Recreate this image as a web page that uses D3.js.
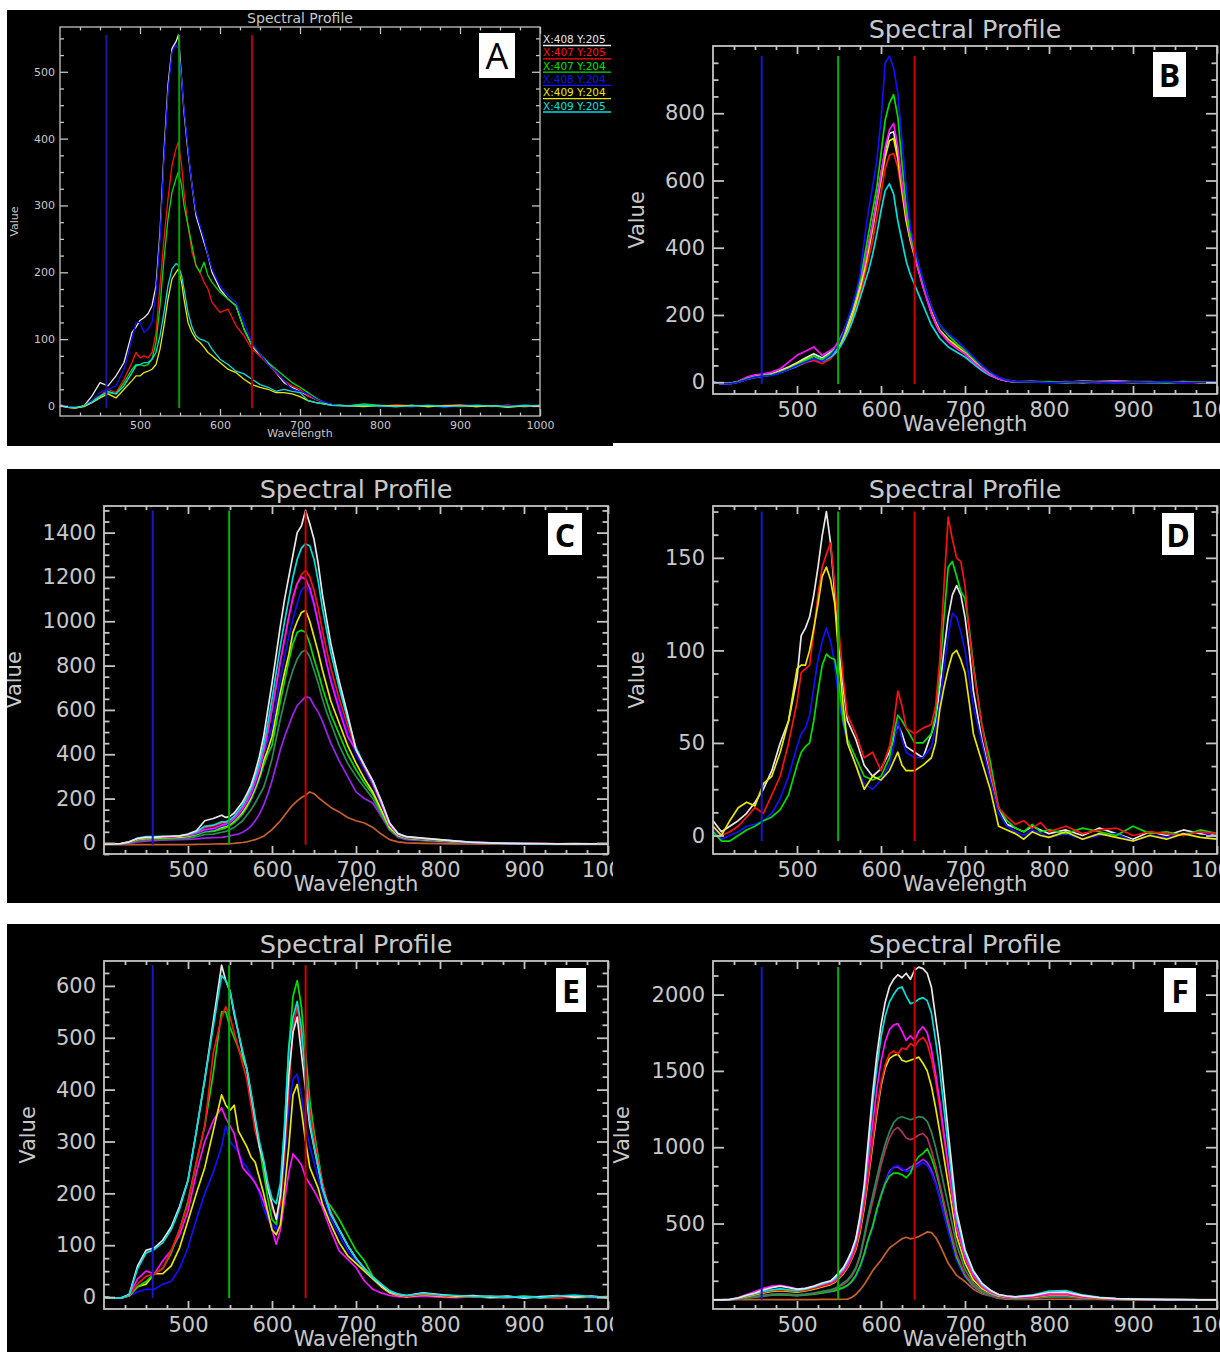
<!DOCTYPE html>
<html>
<head>
<meta charset="utf-8">
<script src="https://cdnjs.cloudflare.com/ajax/libs/d3/7.8.5/d3.min.js"></script>
<style>
  body { margin: 0; background: #fff; }
  svg { display: block; }
</style>
</head>
<body>
<svg id="fig" width="1220" height="1352"></svg>
<script>
// wavelength grids (nm) the curves were read at
const wlA = [400,410,420,430,440,450,460,470,480,490, 495,500,505,510,515,520,525,530,535,540,545, 548,552,
  555,560,565,570,575,580,585,590, 600,610,620,630,640,650,660,670,680,690,700,710,720,730,740,
  760,780,800,820,840,860,880,900,920,940,960,980,1000];
const wlStd = [400,410,420,430,440,450,460,470,480,490,500,510,520,530,540,
  545,550,555,560,565,570,575,580,585,590,595,600,605,610,615,620,625,630,635,640,645,650,655,660,665,670,
  680,690,700,710,720,730,740,750,760,
  780,800,820,840,860,880,900,920,940,960,980,1000];
const wlD = [400,410,420,430,440,450,460,470,480,490,500, 505,510,515,520,525,530,535,540,545,550,555,560,
  570,580,590,600,610, 615,620,625,630, 640,650,660, 665,670,675,680,685,690,695,700,705,710,
  720,730,740,750,760,770,780,790,800, 820,840,860,880,900,920,940,960,980,1000];

const xTicks = [500,600,700,800,900,1000];
const markerWl = [458, 549, 640];   // blue / green / red band lines

// ---- panel A ----
const legendA = ['X:408 Y:205','X:407 Y:205','X:407 Y:204','X:408 Y:204','X:409 Y:204','X:409 Y:205'];
const colorsA = ['#e8e8e8','#ff1010','#00e000','#1010ff','#e8e800','#00e0e0'];
const valuesA = [
  // white
  [2,-2,-3,0,15,35,30,45,65,110, 118,128,132,138,150,180,260,380,480,535,545, 555,490,
   440,380,330,285,265,245,225,200, 175,160,150,115,90,75,65,50,35,28,22,15,10,5,2, 0,2,0,-1,1,-1,0,1,-1,0,1,-1,0],
  // red
  [1,-2,-3,0,8,15,25,20,40,65, 80,72,75,72,80,110,180,250,310,360,385, 395,360,
   320,270,230,210,200,185,175,155, 140,145,120,105,85,75,62,50,38,30,25,15,10,5,2, 0,1,-1,2,0,-1,1,2,0,-1,1,0,1],
  // green
  [0,-2,-2,0,7,15,20,18,35,55, 62,62,60,62,70,95,150,220,280,320,340, 350,330,
   300,270,240,210,200,215,195,185, 170,160,150,115,90,78,65,55,45,35,28,20,12,5,2, 0,3,1,0,-1,1,0,-1,1,0,-1,1,0],
  // blue
  [2,-1,-3,-1,8,20,25,30,55,100, 125,125,110,115,125,170,250,370,470,530,540, 535,490,
   445,385,330,290,270,250,225,205, 180,165,155,125,95,78,62,52,38,25,22,18,10,6,2, -1,1,-1,0,-1,1,-2,0,1,-1,0,1,0],
  // yellow
  [1,-2,-3,-1,5,12,18,12,25,38, 45,45,50,52,55,62,85,120,160,190,200, 205,185,
   160,125,110,100,95,88,80,75, 65,55,50,40,32,28,25,20,20,18,14,8,5,3,1, 0,-1,1,0,1,-1,0,1,-1,0,-2,0,1],
  // cyan
  [0,-2,-2,0,6,14,22,18,30,50, 60,62,65,65,70,80,105,140,180,205,213, 210,195,
   175,140,118,105,100,98,95,85, 70,62,52,48,40,32,28,22,25,22,20,8,5,3,1, 0,1,0,-1,0,1,-1,0,1,0,-1,1,0]
];
const yTicksA = [0,100,200,300,400,500];

// ---- panel B ----
const colorsB = ['#e8e8e8','#ff1010','#e8e800','#00e0e0','#ff10ff','#00e000','#1010ff'];
const valuesB = [
  [0,-4,-4,2,12,20,22,25,35,45,58,72,85,72,90,
   100,115,140,170,205,245,290,345,405,470,545,620,690,740,745,680,580,490,425,375,330,285,245,205,175,150,
   125,105,85,62,40,22,10,4,1, 2,0,1,-1,2,3,1,0,-1,1,0,-1],
  [0,-4,-4,0,8,14,18,22,30,38,48,58,65,55,70,
   85,100,125,150,182,220,262,310,365,420,490,560,635,675,680,640,560,480,420,372,328,285,245,208,178,152,
   125,104,84,62,40,22,10,4,1, 0,1,-1,0,2,1,0,-1,1,0,-1,1],
  [0,-4,-3,2,10,18,20,24,32,42,55,68,78,66,82,
   92,108,130,158,192,232,278,330,390,455,530,600,670,718,725,665,570,480,420,375,332,290,250,212,180,155,
   128,108,88,65,42,24,11,5,1, 2,1,0,3,1,0,-1,1,0,2,-1,0],
  [0,-4,-4,0,8,14,18,22,28,38,48,60,70,62,75,
   85,100,120,145,175,210,250,290,330,380,440,510,570,590,560,480,420,360,320,290,260,230,200,170,150,130,
   105,90,75,55,35,20,10,4,1, 1,0,-1,1,0,2,0,-1,0,1,0,-1],
  [0,-4,-4,3,15,22,25,30,40,60,80,92,105,80,95,
   105,125,150,180,215,255,300,350,410,470,540,620,700,750,770,700,590,500,430,380,330,285,245,205,175,150,
   120,100,85,60,40,22,10,4,1, 1,0,2,0,-1,3,1,2,0,-1,1,0],
  [0,-3,-4,1,10,16,20,22,30,40,52,65,78,68,85,
   98,118,145,180,215,258,305,370,440,510,580,680,780,830,855,790,650,520,440,390,345,300,260,225,195,170,
   140,115,95,70,48,28,14,6,2, 0,2,-1,1,0,-1,2,1,-1,0,1,0],
  [0,-4,-5,0,8,15,18,20,28,38,50,60,70,62,80,
   95,115,145,185,220,265,320,420,510,580,660,780,950,970,935,860,720,580,460,400,350,305,260,225,195,170,
   145,125,100,75,50,30,15,6,2, 1,-1,0,2,0,-2,1,0,2,-1,0,1]
];
const yTicksB = [0,200,400,600,800];

// ---- panel C ----
const colorsC = ['#c8602a','#a020f0','#2e8b57','#00e000','#e8e800','#1010ff','#ff1010','#ff10ff','#00e0e0','#e8e8e8'];
const valuesC = [
  // orange
  [-8,-8,-8,-8,-8,-8,-8,-8,-8,-8,-8,-7,-6,-5,-4,
   -4,-3,-2,0,2,5,10,15,22,30,45,60,80,100,125,150,172,190,205,215,230,222,205,190,175,160,
   140,115,100,90,70,40,15,5,0, -2,-3,-4,-5,-5,-6,-6,-6,-7,-7,-7,-7],
  // purple
  [-6,-6,-5,-2,5,8,10,12,14,15,16,18,22,24,25,
   28,32,36,40,48,60,75,100,130,170,220,280,350,420,480,530,580,620,640,660,655,620,590,550,500,450,
   370,300,230,200,180,120,58,25,15, 10,6,3,0,-2,-3,-4,-4,-4,-5,-5,-5],
  // dark green
  [-6,-6,-5,0,10,14,15,16,18,20,22,28,38,40,48,
   52,60,70,85,100,125,150,180,215,250,310,380,470,560,640,720,780,830,860,870,840,780,720,650,590,540,
   440,360,300,250,200,130,60,30,18, 13,8,4,0,-2,-3,-3,-4,-4,-5,-5,-5],
  // green
  [-6,-6,-4,2,15,20,22,23,24,25,28,36,50,52,62,
   68,78,92,110,130,160,195,240,290,350,400,440,540,640,730,820,900,950,960,950,900,830,770,700,640,580,
   490,400,330,270,220,140,65,32,20, 15,10,5,1,-1,-2,-3,-4,-4,-4,-5,-5],
  // yellow
  [-6,-6,-4,3,16,20,22,24,25,26,30,40,55,58,70,
   75,85,100,120,140,170,205,250,300,370,420,480,580,680,770,850,950,1000,1040,1050,1000,930,860,780,710,640,
   540,440,360,290,230,150,70,34,22, 16,10,6,1,-1,-2,-3,-4,-4,-5,-5,-5],
  // blue
  [-6,-6,-4,4,20,25,26,27,28,30,34,42,55,60,75,
   80,90,105,125,150,180,215,260,320,400,460,520,630,740,840,930,1010,1080,1140,1160,1130,1070,990,900,820,740,
   620,500,400,330,260,170,80,38,24, 18,12,6,1,-1,-2,-3,-4,-4,-4,-5,-5],
  // red
  [-6,-6,-4,3,18,24,25,26,27,30,35,45,70,75,90,
   90,100,115,135,160,190,230,280,340,410,500,600,710,820,920,1020,1100,1170,1210,1230,1200,1140,1060,960,870,790,
   650,530,420,340,270,180,85,40,26, 18,12,7,2,-1,-2,-3,-3,-4,-4,-4,-5],
  // magenta
  [-5,-5,-3,4,20,25,25,27,28,30,35,45,60,65,80,
   85,95,110,130,155,185,225,275,335,410,500,600,710,820,920,1020,1110,1170,1200,1190,1150,1080,990,900,810,730,
   600,480,420,350,270,180,80,38,26, 20,14,8,2,0,-2,-3,-3,-4,-4,-4,-4],
  // cyan
  [-5,-5,-3,5,22,28,28,30,30,32,38,50,75,80,95,
   95,105,120,145,170,205,245,300,360,440,540,650,770,890,1000,1100,1200,1280,1330,1350,1340,1280,1180,1060,960,860,
   700,560,430,350,280,190,90,42,28, 20,14,8,3,0,-2,-3,-4,-4,-4,-4,-5],
  // white
  [-5,-5,-3,5,20,25,25,28,30,32,40,55,100,110,125,
   115,120,135,160,185,220,260,320,390,480,600,720,850,980,1100,1200,1300,1400,1430,1500,1440,1370,1260,1120,1010,900,
   730,580,420,350,280,190,90,42,28, 22,15,8,2,0,-2,-3,-3,-4,-3,-4,-4]
];
const yTicksC = [0,200,400,600,800,1000,1200,1400];

// ---- panel D ----
const colorsD = ['#e8e8e8','#1010ff','#00e000','#ff1010','#e8e800'];
const valuesD = [
  // white
  [8,2,5,8,12,18,25,35,50,62,85, 108,112,118,130,145,162,175,158,130,100,80,62, 52,38,32,36,45, 52,60,55,48,
   45,42,55, 62,80,100,118,130,135,130,118,100,78, 52,32,15,6,4,2,5,3,1, 3,0,4,1,-2,2,0,3,1,0],
  // blue
  [3,-2,0,2,5,6,8,12,20,32,48, 55,58,65,80,95,105,112,105,92,72,60,50, 38,28,25,30,38, 48,62,52,45,
   42,42,48, 58,72,90,108,120,118,110,100,85,70, 50,30,12,5,2,0,3,1,-1, 1,-2,0,1,-3,0,-1,1,2,-1],
  // green
  [2,-3,-3,0,3,5,8,10,14,22,38, 45,48,50,62,78,92,98,96,95,82,62,52, 42,32,30,32,42, 55,65,62,58,
   50,50,55, 65,88,118,145,148,140,132,128,112,92, 60,40,15,8,4,2,6,2,3, 1,4,2,0,5,1,2,0,3,1],
  // red
  [5,0,2,5,10,15,12,22,32,50,72, 88,90,92,110,130,145,152,158,135,110,85,65, 55,42,45,35,48, 60,78,70,58,
   55,58,60, 70,95,135,172,160,150,148,135,110,90, 60,35,15,10,6,8,4,7,2, 5,1,3,4,0,2,1,0,2,1],
  // yellow
  [5,0,8,15,18,16,28,32,45,62,90, 92,92,100,112,125,140,145,138,125,95,70,50, 38,25,32,30,35, 40,45,38,35,
   35,38,42, 50,68,80,90,98,100,95,88,72,55, 40,25,5,3,1,-2,2,0,-1, 2,-2,1,-1,-3,0,-2,1,-1,-2]
];
const yTicksD = [0,50,100,150];

// ---- panel E ----
const colorsE = ['#1010ff','#ff10ff','#e8e800','#00e000','#ff1010','#e8e8e8','#00e0e0'];
const valuesE = [
  // blue
  [0,-2,-2,2,10,15,15,25,30,55,95,150,200,240,290,
   330,300,290,280,260,250,235,220,200,170,150,140,130,180,260,370,420,430,390,330,290,260,230,200,175,150,
   120,90,70,50,35,22,10,4,1, 3,1,0,2,-1,0,1,-1,0,1,-1,0],
  // magenta
  [0,-2,-2,5,35,50,45,70,90,120,166,240,300,340,365,
   345,330,315,280,250,240,231,220,205,185,160,130,102,130,186,240,276,266,255,231,218,205,190,173,150,128,
   89,73,57,31,15,8,3,1,0, 2,0,-1,1,0,-1,0,1,-1,0,1,0],
  // yellow
  [0,-2,-2,2,20,25,45,45,60,95,147,200,250,320,390,
   370,360,370,320,305,290,270,260,230,200,165,130,120,140,210,290,390,410,360,300,250,230,210,180,160,140,
   105,80,65,50,35,20,8,3,1, 4,2,0,1,-1,0,1,-1,0,2,0,-1],
  // green
  [0,-2,-2,3,20,30,45,55,85,130,185,260,330,430,550,
   550,520,500,480,460,440,390,340,290,240,190,150,140,200,330,480,580,610,560,470,380,320,270,220,185,175,
   150,120,90,70,40,25,12,5,2, 6,4,2,0,1,-1,2,0,1,-1,0,1],
  // red
  [0,-2,-2,3,25,40,45,55,90,130,180,260,330,470,540,
   560,540,510,480,450,420,370,320,290,260,220,170,155,180,280,400,520,560,500,440,360,310,260,220,190,165,
   130,100,75,55,38,22,10,4,2, 5,3,1,0,2,-1,1,0,-2,1,0,1],
  // white
  [0,-2,-2,5,60,90,95,110,135,175,225,320,420,530,640,
   610,590,545,510,470,440,390,340,290,260,210,180,150,195,300,430,510,540,470,400,330,290,250,210,185,160,
   130,100,75,55,38,22,10,5,3, 8,5,2,3,0,2,-2,1,3,0,2,-1],
  // cyan
  [0,-2,-2,4,55,85,92,105,130,170,225,320,420,520,620,
   610,590,550,510,475,440,395,345,300,265,220,190,180,220,330,480,540,570,520,420,340,290,250,210,185,160,
   130,100,75,55,38,25,12,6,3, 7,4,3,1,2,0,1,-1,2,4,1,0]
];
const yTicksE = [0,100,200,300,400,500,600];

// ---- panel F ----
const colorsF = ['#c8602a','#a020f0','#1010ff','#00e000','#b03060','#2e8b57','#e8e800','#ff1010','#ff10ff','#00e0e0','#e8e8e8'];
const valuesF = [
  // orange
  [2,2,2,2,2,2,2,2,2,2,2,2,2,3,3,
   3,3,4,5,15,35,65,100,145,190,225,260,300,340,360,380,400,410,400,405,415,430,445,440,410,360,
   240,160,120,70,40,25,10,5,3, 3,4,4,3,3,2,2,2,2,2,2,2],
  // purple
  [0,0,1,6,14,20,28,34,38,34,30,34,40,48,56,
   62,72,82,95,120,155,215,300,400,480,590,690,770,840,870,870,850,850,870,880,900,920,900,850,770,670,
   460,265,155,88,50,30,17,12,8, 11,19,21,11,5,3,2,1,0,0,0,0],
  // blue
  [0,0,1,5,12,18,24,30,34,30,27,31,37,45,52,
   58,68,78,90,115,150,210,290,390,470,580,680,760,830,870,880,860,840,850,860,880,900,880,830,760,660,
   450,260,150,85,48,28,16,11,8, 10,18,20,10,5,3,2,1,0,0,0,0],
  // green
  [0,0,1,5,12,18,25,30,34,30,28,32,38,46,55,
   60,70,80,95,120,160,220,300,400,480,590,680,760,810,830,830,820,800,830,900,940,960,990,930,850,740,
   500,280,160,90,50,30,18,12,8, 11,20,22,11,5,3,2,1,0,0,0,0],
  // maroon
  [0,0,1,6,14,20,28,34,38,34,30,35,42,52,62,
   70,85,100,120,155,200,280,400,530,640,760,880,980,1060,1110,1130,1100,1060,1050,1060,1080,1090,1060,980,880,760,
   520,300,170,95,55,30,18,12,9, 12,22,24,12,6,3,2,1,0,0,0,0],
  // sea green
  [0,0,1,6,15,22,30,36,40,36,32,38,45,55,65,
   75,90,110,130,165,210,290,420,560,680,800,920,1020,1100,1160,1190,1200,1190,1180,1190,1200,1195,1170,1100,1000,880,
   620,360,200,110,60,35,20,14,10, 14,24,26,14,7,4,2,1,0,0,0,0],
  // yellow
  [0,0,2,10,22,34,45,55,60,55,50,58,70,85,100,
   115,140,170,210,265,330,440,600,800,1010,1220,1400,1520,1580,1600,1610,1570,1560,1570,1580,1590,1550,1500,1400,1260,1100,
   760,420,240,130,75,45,25,18,14, 18,30,32,18,9,5,3,2,1,0,0,0],
  // red
  [0,0,2,10,25,38,50,60,65,60,55,62,75,90,105,
   120,145,175,215,270,340,460,620,820,1040,1250,1420,1540,1610,1630,1610,1650,1640,1680,1660,1700,1720,1680,1580,1440,1260,
   860,470,270,150,85,50,30,20,15, 20,34,36,20,10,5,3,2,1,0,0,0],
  // magenta
  [0,0,3,15,35,55,75,90,95,85,70,75,85,100,115,
   130,160,190,230,290,370,500,680,920,1150,1380,1560,1690,1770,1800,1810,1760,1700,1730,1700,1760,1790,1750,1640,1480,1300,
   880,480,280,160,90,50,30,20,16, 22,38,40,22,12,6,4,2,1,0,0,0],
  // cyan
  [0,0,3,12,28,40,55,65,72,65,60,70,85,105,120,
   140,170,200,250,310,390,530,720,1000,1280,1520,1720,1860,1950,2000,2040,2050,1990,1940,1950,1970,1980,1960,1880,1700,1500,
   1000,540,310,180,100,60,35,25,20, 32,58,60,32,16,8,5,3,2,1,0,0],
  // white
  [0,0,2,12,30,45,65,80,90,80,70,75,90,110,125,
   150,180,210,260,320,400,550,750,1050,1350,1600,1800,1950,2050,2100,2130,2110,2140,2100,2160,2180,2170,2140,2050,1850,1650,
   1100,580,330,190,110,65,35,25,20, 28,48,50,28,15,8,5,3,2,1,0,0]
];
const yTicksF = [500,1000,1500,2000];

// ---------------- layout ----------------
const svg = d3.select('#fig');
const textCol = '#c8c8c8', axisCol = '#c4c4c4';
const font = '"DejaVu Sans", Verdana, sans-serif';
const markerColorsBig = ['#1818c8','#00b400','#d00000'];
const markerColorsA = ['#1818a0','#00a000','#b00000'];
const fmt = d3.format('d');

const panels = [
  {id:'A', frame:[7,10,606,436], box:[60,27,540,416], yDomain:[-15,567], wl:wlA, values:valuesA, colors:colorsA,
   yTicks:yTicksA, yMinor:25, small:true, valueX:14, letter:[479,33,36,45,'A',false]},
  {id:'B', frame:[613,10,607,433], box:[713,46,1217,394], yDomain:[-35,1000], wl:wlStd, values:valuesB, colors:colorsB,
   yTicks:yTicksB, yMinor:50, valueX:637, letter:[1153,52,33,45,'B',true]},
  {id:'C', frame:[7,469,606,434], box:[104,506,608,854], yDomain:[-50,1520], wl:wlStd, values:valuesC, colors:colorsC,
   yTicks:yTicksC, yMinor:50, valueX:14, letter:[548,513,34,42,'C',true]},
  {id:'D', frame:[613,469,607,434], box:[713,506,1217,854], yDomain:[-10,178], wl:wlD, values:valuesD, colors:colorsD,
   yTicks:yTicksD, yMinor:12.5, valueX:637, letter:[1162,513,32,42,'D',true]},
  {id:'E', frame:[7,924,606,428], box:[104,961,608,1309], yDomain:[-23,648], wl:wlStd, values:valuesE, colors:colorsE,
   yTicks:yTicksE, yMinor:25, valueX:28, letter:[556,968,30,44,'E',true]},
  {id:'F', frame:[613,924,607,428], box:[713,961,1217,1309], yDomain:[-60,2220], wl:wlStd, values:valuesF, colors:colorsF,
   yTicks:yTicksF, yMinor:125, valueX:622, letter:[1164,968,32,44,'F',true]}
];

panels.forEach(drawPanel);

function drawPanel(p) {
  const [fx, fy, fw, fh] = p.frame;
  const [x0, y0, x1, y1] = p.box;
  const small = !!p.small;
  const fs = small ? 11 : 21;
  const ts = small ? 14 : 25.5;

  svg.append('clipPath').attr('id', 'clip' + p.id)
    .append('rect').attr('x', fx).attr('y', fy).attr('width', fw).attr('height', fh);
  const g = svg.append('g').attr('clip-path', `url(#clip${p.id})`);
  g.append('rect').attr('x', fx).attr('y', fy).attr('width', fw).attr('height', fh).attr('fill', '#000');

  const x = d3.scaleLinear().domain([400, 1000]).range([x0, x1]);
  const y = d3.scaleLinear().domain(p.yDomain).range([y1, y0]);

  // spectra
  p.values.forEach((vals, k) => {
    if (vals.length !== p.wl.length) console.warn(p.id, k, vals.length, p.wl.length);
    const line = d3.line().x((d, i) => x(p.wl[i])).y(d => y(d));
    g.append('path')
      .attr('d', line(vals.slice(0, p.wl.length)))
      .attr('fill', 'none')
      .attr('stroke', p.colors[k])
      .attr('stroke-width', small ? 1.3 : 1.7)
      .attr('stroke-linejoin', 'round');
  });

  // band marker lines, from data min to data max
  const all = p.values.flat();
  const vmin = d3.min(all), vmax = d3.max(all);
  markerWl.forEach((w, i) => {
    g.append('line')
      .attr('x1', x(w)).attr('x2', x(w))
      .attr('y1', y(vmin)).attr('y2', y(vmax))
      .attr('stroke', (small ? markerColorsA : markerColorsBig)[i])
      .attr('stroke-width', 2);
  });

  // axes, ticks pointing inward on all four sides
  const majX = small ? 7 : 8, majY = small ? 8 : 11;
  const sw = small ? 1.3 : 1.8;
  const xMinor = d3.range(425, 1000, 25).filter(v => v % 100 !== 0);
  const [ylo, yhi] = p.yDomain;
  const yMinor = d3.range(Math.ceil(ylo / p.yMinor) * p.yMinor, yhi + 1e-9, p.yMinor)
    .filter(v => !p.yTicks.includes(v) && Math.abs(v / p.yMinor % 4) > 1e-6);

  const style = sel => {
    sel.select('.domain').remove();
    sel.selectAll('line').attr('stroke', axisCol).attr('stroke-width', sw);
    sel.selectAll('text').attr('fill', textCol)
      .style('font-family', font).style('font-size', fs + 'px');
  };

  g.append('g').attr('transform', `translate(0,${y1})`)
    .call(d3.axisBottom(x).tickValues(xTicks).tickFormat(fmt).tickSize(-majX).tickPadding(small ? 5 : 8)).call(style);
  g.append('g').attr('transform', `translate(0,${y1})`)
    .call(d3.axisBottom(x).tickValues(xMinor).tickSize(-majX / 2).tickFormat('')).call(style);
  g.append('g').attr('transform', `translate(0,${y0})`)
    .call(d3.axisTop(x).tickValues(xTicks).tickSize(-majX).tickFormat('')).call(style);
  g.append('g').attr('transform', `translate(0,${y0})`)
    .call(d3.axisTop(x).tickValues(xMinor).tickSize(-majX / 2).tickFormat('')).call(style);

  g.append('g').attr('transform', `translate(${x0},0)`)
    .call(d3.axisLeft(y).tickValues(p.yTicks).tickFormat(fmt).tickSize(-majY).tickPadding(small ? 5 : 8)).call(style);
  g.append('g').attr('transform', `translate(${x0},0)`)
    .call(d3.axisLeft(y).tickValues(yMinor).tickSize(-majY / 2).tickFormat('')).call(style);
  g.append('g').attr('transform', `translate(${x1},0)`)
    .call(d3.axisRight(y).tickValues(p.yTicks).tickSize(-majY).tickFormat('')).call(style);
  g.append('g').attr('transform', `translate(${x1},0)`)
    .call(d3.axisRight(y).tickValues(yMinor).tickSize(-majY / 2).tickFormat('')).call(style);

  g.append('rect').attr('x', x0).attr('y', y0).attr('width', x1 - x0).attr('height', y1 - y0)
    .attr('fill', 'none').attr('stroke', axisCol).attr('stroke-width', sw);

  // titles
  const cx = (x0 + x1) / 2;
  g.append('text').attr('x', cx).attr('y', y0 - (small ? 4 : 8))
    .attr('text-anchor', 'middle').attr('fill', textCol)
    .style('font-family', font).style('font-size', ts + 'px').text('Spectral Profile');
  g.append('text').attr('x', cx).attr('y', y1 + (small ? 21 : 37))
    .attr('text-anchor', 'middle').attr('fill', textCol)
    .style('font-family', font).style('font-size', fs + 'px').text('Wavelength');
  g.append('text')
    .attr('transform', `translate(${p.valueX},${(y0 + y1) / 2}) rotate(-90)`)
    .attr('text-anchor', 'middle').attr('dominant-baseline', 'central').attr('fill', textCol)
    .style('font-family', font).style('font-size', fs + 'px').text('Value');

  // legend (panel A only)
  if (p.id === 'A') {
    legendA.forEach((t, i) => {
      const ly = 39 + i * 13.3;
      g.append('text').attr('x', 543).attr('y', ly + 4).attr('fill', p.colors[i])
        .style('font-family', font).style('font-size', '10.5px').text(t);
      g.append('line').attr('x1', 543).attr('x2', 611).attr('y1', ly + 6.5).attr('y2', ly + 6.5)
        .attr('stroke', p.colors[i]).attr('stroke-width', 1.3);
    });
  }

  // panel letter
  const [lx, ly, lw, lh, ltxt, bold] = p.letter;
  g.append('rect').attr('x', lx).attr('y', ly).attr('width', lw).attr('height', lh).attr('fill', '#fff');
  g.append('text').attr('x', lx + lw / 2).attr('y', ly + lh / 2)
    .attr('text-anchor', 'middle').attr('dominant-baseline', 'central')
    .attr('fill', '#000')
    .style('font-family', '"Open Sans", "Liberation Sans", sans-serif')
    .style('font-weight', bold ? 700 : 400)
    .style('font-size', (bold ? 32 : 36) + 'px')
    .text(ltxt);
}
</script>
</body>
</html>
